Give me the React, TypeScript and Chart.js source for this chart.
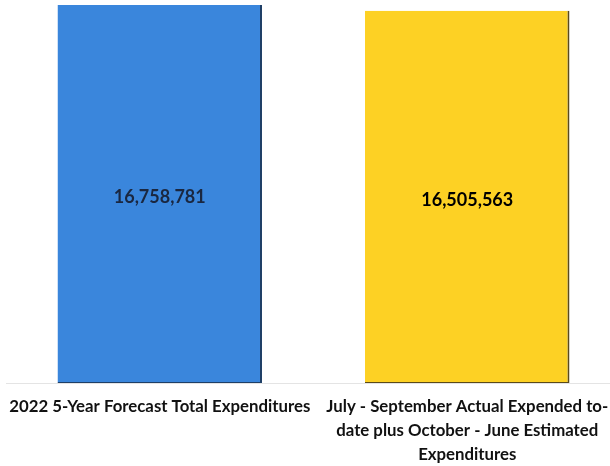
import React, { useEffect, useRef } from "react";
import { Chart, registerables } from "chart.js";

Chart.register(...registerables);

const categories: string[][] = [
  ["2022 5-Year Forecast Total Expenditures"],
  ["July - September Actual Expended to-", "date plus October - June Estimated", "Expenditures"],
];
const values: number[] = [16758781, 16505563];
const barColors: string[] = ["#3a86dc", "#fdd124"];
const edgeColors: string[] = ["#1f3f66", "#5a4a1a"];
const labelColors: string[] = ["#1a2740", "#000000"];

const valueLabelPlugin = {
  id: "valueLabels",
  afterDatasetsDraw(chart: any) {
    const { ctx } = chart;
    const meta = chart.getDatasetMeta(0);
    ctx.save();
    ctx.font = "bold 18px Lato, 'Open Sans', sans-serif";
    ctx.textAlign = "center";
    ctx.textBaseline = "middle";
    meta.data.forEach((bar: any, i: number) => {
      const p = bar.getProps(["x", "y", "base"], true);
      ctx.fillStyle = labelColors[i];
      ctx.fillText(values[i].toLocaleString("en-US"), p.x, (p.y + p.base) / 2 + 3);
    });
    ctx.restore();
  },
};

export default function App() {
  const ref = useRef<HTMLCanvasElement | null>(null);
  useEffect(() => {
    if (!ref.current) return;
    const chart = new Chart(ref.current, {
      type: "bar",
      data: {
        labels: categories,
        datasets: [
          {
            data: values,
            backgroundColor: barColors,
            borderColor: edgeColors,
            borderWidth: { right: 2, bottom: 1, top: 0, left: 0 },
            borderSkipped: false,
            barPercentage: 0.665,
            categoryPercentage: 1,
          },
        ],
      },
      options: {
        animation: false,
        responsive: false,
        maintainAspectRatio: false,
        layout: { padding: { top: 5, left: 6, right: 0, bottom: 1 } },
        plugins: { legend: { display: false }, tooltip: { enabled: false } },
        scales: {
          x: {
            grid: { display: false },
            border: { display: true, color: "#e4e4e4" },
            afterFit: (scale: any) => {
              scale.height = 82;
            },
            ticks: {
              autoSkip: false,
              maxRotation: 0,
              minRotation: 0,
              padding: 4,
              color: "#111",
              font: { family: "Lato, 'Open Sans', sans-serif", size: 16.8, weight: "bold", lineHeight: 1.42 },
            },
          },
          y: {
            display: false,
            min: 0,
            max: Math.max(...values),
          },
        },
      },
      plugins: [valueLabelPlugin],
    });
    return () => chart.destroy();
  }, []);
  return (
    <div style={{ position: "fixed", left: 0, top: 0, width: 610, height: 466, overflow: "hidden", background: "#fff" }}>
      <canvas ref={ref} width={621} height={466} style={{ display: "block", width: 621, height: 466 }} />
    </div>
  );
}
